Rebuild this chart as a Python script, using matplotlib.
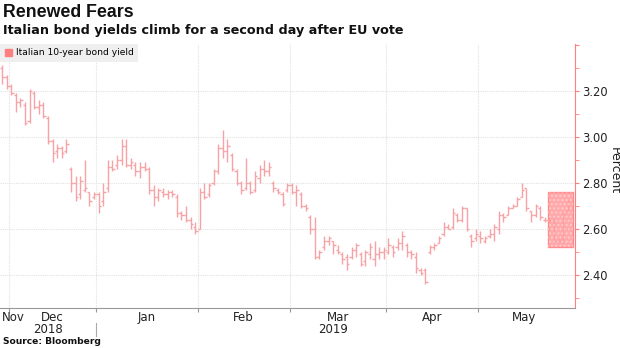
import matplotlib
matplotlib.use("Agg")
import matplotlib.pyplot as plt
import numpy as np
import pandas as pd
from matplotlib.patches import Patch, Rectangle

# trading days shown (Bloomberg calendar, holidays dropped)
holidays = ["2018-12-25", "2018-12-26", "2019-01-01", "2019-04-19", "2019-04-22"]
dates = pd.bdate_range("2018-11-29", "2019-05-28")
dates = dates[~dates.isin(pd.to_datetime(holidays))]

# Italian 10-year yield, daily open / high / low / close (percent)
opens = [3.30, 3.26, 3.22, 3.18, 3.15, 3.14, 3.07, 3.19, 3.13, 3.14, 3.08, 2.98, 2.94, 2.95, 2.94,
         2.86, 2.80, 2.75, 2.77, 2.76, 2.74,
         2.75, 2.72, 2.78, 2.87, 2.88, 2.90, 2.96, 2.88, 2.88, 2.85, 2.87, 2.86, 2.77, 2.74, 2.76,
         2.75, 2.76, 2.74, 2.67, 2.66, 2.64, 2.61,
         2.60, 2.76, 2.75, 2.80, 2.85, 2.95, 2.94, 2.92, 2.85, 2.80, 2.78, 2.80, 2.77, 2.82, 2.86,
         2.85, 2.80, 2.77, 2.75, 2.77,
         2.79, 2.76, 2.75, 2.70, 2.65, 2.60, 2.48, 2.52, 2.55, 2.55, 2.51, 2.49, 2.48, 2.48, 2.51,
         2.49, 2.46, 2.49, 2.47, 2.49, 2.50,
         2.50, 2.52, 2.52, 2.54, 2.53, 2.50, 2.48, 2.42, 2.42, 2.50, 2.52, 2.54, 2.58, 2.61, 2.61,
         2.66, 2.64, 2.69, 2.57, 2.56,
         2.57, 2.55, 2.57, 2.58, 2.60, 2.66, 2.66, 2.69, 2.70, 2.74, 2.78, 2.68, 2.66, 2.69, 2.64,
         2.64, 2.64, 2.55, 2.56, 2.68]
highs = [3.31, 3.27, 3.23, 3.19, 3.17, 3.15, 3.21, 3.20, 3.16, 3.15, 3.09, 2.99, 2.97, 2.96, 2.99,
         2.87, 2.83, 2.83, 2.90, 2.76, 2.76,
         2.76, 2.80, 2.90, 2.90, 2.92, 2.99, 2.99, 2.91, 2.89, 2.89, 2.89, 2.87, 2.79, 2.78, 2.78,
         2.77, 2.77, 2.75, 2.68, 2.70, 2.65, 2.63,
         2.78, 2.80, 2.80, 2.86, 2.97, 3.03, 2.99, 2.93, 2.86, 2.81, 2.91, 2.81, 2.85, 2.88, 2.90,
         2.89, 2.81, 2.78, 2.76, 2.80,
         2.80, 2.79, 2.76, 2.71, 2.66, 2.65, 2.51, 2.57, 2.57, 2.55, 2.53, 2.50, 2.49, 2.52, 2.54,
         2.50, 2.51, 2.54, 2.55, 2.52, 2.52,
         2.56, 2.53, 2.56, 2.59, 2.54, 2.51, 2.50, 2.43, 2.43, 2.53, 2.54, 2.57, 2.63, 2.62, 2.69,
         2.67, 2.70, 2.69, 2.58, 2.60,
         2.59, 2.57, 2.60, 2.62, 2.68, 2.67, 2.70, 2.71, 2.74, 2.80, 2.78, 2.68, 2.71, 2.70, 2.65,
         2.65, 2.65, 2.56, 2.68, 2.73]
lows = [3.23, 3.21, 3.18, 3.11, 3.13, 3.05, 3.06, 3.12, 3.10, 3.08, 2.97, 2.89, 2.91, 2.91, 2.93,
        2.76, 2.72, 2.73, 2.76, 2.70, 2.73,
        2.67, 2.70, 2.76, 2.85, 2.86, 2.88, 2.87, 2.86, 2.83, 2.82, 2.85, 2.75, 2.70, 2.72, 2.74,
        2.73, 2.74, 2.65, 2.64, 2.63, 2.60, 2.58,
        2.60, 2.73, 2.74, 2.79, 2.84, 2.91, 2.89, 2.85, 2.79, 2.75, 2.77, 2.75, 2.76, 2.80, 2.83,
        2.83, 2.76, 2.75, 2.70, 2.76,
        2.75, 2.70, 2.69, 2.68, 2.58, 2.47, 2.47, 2.51, 2.53, 2.49, 2.49, 2.45, 2.42, 2.47, 2.48,
        2.44, 2.44, 2.47, 2.44, 2.47, 2.47,
        2.49, 2.48, 2.51, 2.51, 2.48, 2.47, 2.41, 2.40, 2.36, 2.49, 2.51, 2.54, 2.57, 2.60, 2.60,
        2.63, 2.63, 2.59, 2.52, 2.55,
        2.54, 2.54, 2.56, 2.55, 2.58, 2.63, 2.66, 2.69, 2.70, 2.74, 2.68, 2.63, 2.65, 2.64, 2.63,
        2.63, 2.54, 2.54, 2.54, 2.67]
closes = [3.26, 3.22, 3.19, 3.15, 3.16, 3.06, 3.20, 3.13, 3.14, 3.09, 2.98, 2.93, 2.95, 2.93, 2.97,
          2.80, 2.74, 2.81, 2.78, 2.72, 2.75,
          2.70, 2.76, 2.87, 2.86, 2.90, 2.96, 2.88, 2.89, 2.85, 2.87, 2.86, 2.77, 2.74, 2.77, 2.75,
          2.76, 2.75, 2.67, 2.66, 2.64, 2.62, 2.59,
          2.76, 2.74, 2.79, 2.85, 2.95, 2.94, 2.96, 2.86, 2.80, 2.77, 2.80, 2.76, 2.83, 2.86, 2.85,
          2.87, 2.78, 2.76, 2.71, 2.79,
          2.76, 2.77, 2.70, 2.69, 2.60, 2.48, 2.50, 2.55, 2.56, 2.53, 2.50, 2.47, 2.45, 2.51, 2.53,
          2.45, 2.50, 2.52, 2.49, 2.50, 2.51,
          2.53, 2.50, 2.54, 2.57, 2.50, 2.49, 2.43, 2.41, 2.37, 2.52, 2.53, 2.56, 2.61, 2.60, 2.67,
          2.64, 2.69, 2.60, 2.55, 2.58,
          2.56, 2.56, 2.58, 2.61, 2.66, 2.65, 2.69, 2.70, 2.73, 2.77, 2.69, 2.66, 2.70, 2.65, 2.64,
          2.64, 2.55, 2.55, 2.67, 2.72]

# highlighted window after the EU vote
box_start, box_end = "2019-05-22", "2019-05-28"
box_low, box_high = 2.52, 2.76

title = "Renewed Fears"
subtitle = "Italian bond yields climb for a second day after EU vote"
series_name = "Italian 10-year bond yield"
source = "Source: Bloomberg"

bar_color = "#f7a3a5"
red = "#ff7f80"
txt = "#222222"

fig = plt.figure(figsize=(6.2, 3.48), dpi=100)
ax = fig.add_axes([0.0, 0.115, 0.927, 0.759])

x = np.arange(len(dates))
ax.vlines(x, lows, highs, color=bar_color, lw=1.0)
ax.hlines(opens, x - 0.5, x, color=bar_color, lw=1.0)
ax.hlines(closes, x, x + 0.5, color=bar_color, lw=1.0)

# highlight box
i0 = dates.get_loc(pd.Timestamp(box_start)) - 0.3
i1 = dates.get_loc(pd.Timestamp(box_end)) + 1.1
ax.add_patch(Rectangle((i0, box_low), i1 - i0, box_high - box_low,
                       facecolor="#ff9a9c", edgecolor=red, lw=1, alpha=0.85, zorder=3))
ax.add_patch(Rectangle((i0, box_low), i1 - i0, box_high - box_low,
                       facecolor="none", edgecolor="white", hatch="....", lw=0, alpha=0.35, zorder=4))

ax.set_xlim(-0.45, len(dates) + 0.5)
ax.set_ylim(2.257, 3.404)

# month boundaries and labels
months = dates.to_period("M")
starts = [i for i in range(1, len(dates)) if months[i] != months[i - 1]]
bounds = [s - 0.5 for s in starts]
for b in bounds:
    ax.axvline(b, color="#e2e2e2", lw=0.8, ls=(0, (1, 1)), zorder=0)
for yv in [2.4, 2.6, 2.8, 3.0, 3.2]:
    ax.axhline(yv, color="#e2e2e2", lw=0.8, ls=(0, (1, 1)), zorder=0)

ax.set_xticks(bounds)
ax.set_xticklabels([])
ax.tick_params(axis="x", length=3, color="#999999")

xt = ax.get_xaxis_transform()
edges = [-0.45] + bounds + [len(dates) - 0.5]
for k in range(len(edges) - 1):
    name = dates[int(np.ceil(edges[k]))].strftime("%b")
    mid = (edges[k] + edges[k + 1]) / 2
    if k == 0:
        ax.text(0.0, -0.012, name, transform=xt, ha="left", va="top", fontsize=8.5, color=txt)
    else:
        ax.text(mid, -0.012, name, transform=xt, ha="center", va="top", fontsize=8.5, color=txt)

# years
year_split = bounds[1]
ax.text((edges[0] + year_split) / 2, -0.058, "2018", transform=xt,
        ha="center", va="top", fontsize=8.5, color=txt)
ax.text((year_split + edges[-1]) / 2, -0.058, "2019", transform=xt,
        ha="center", va="top", fontsize=8.5, color=txt)
ax.plot([year_split, year_split], [-0.055, -0.105], transform=xt,
        color="#aaaaaa", lw=0.8, clip_on=False)

# right axis
ax.yaxis.tick_right()
ax.set_yticks([2.4, 2.6, 2.8, 3.0, 3.2, 3.4])
ax.set_yticklabels(["2.40", "2.60", "2.80", "3.00", "3.20", ""])
ax.set_yticks([2.3, 2.5, 2.7, 2.9, 3.1, 3.3], minor=True)
ax.tick_params(axis="y", which="both", color=red, labelcolor=txt, labelsize=8.3,
               length=3, pad=2)
fig.text(0.99, 0.51, "Percent", rotation=270, fontsize=9, color=txt, ha="center", va="center")

for side in ["top", "left"]:
    ax.spines[side].set_visible(False)
ax.spines["right"].set_color(red)
ax.spines["bottom"].set_color("#999999")

leg = ax.legend(handles=[Patch(color=red, label=series_name)], loc="upper left",
                bbox_to_anchor=(0.0, 1.0), borderaxespad=0, frameon=True, fontsize=6.6,
                handlelength=0.8, handleheight=0.8, handletextpad=0.4, borderpad=0.5)
leg.get_frame().set_facecolor("#ececec")
leg.get_frame().set_edgecolor("none")
leg.get_frame().set_boxstyle("square", pad=0)

fig.text(0.005, 0.965, title, fontsize=12.8, fontweight="bold", color="#111111", va="center",
         family="Liberation Sans")
fig.text(0.005, 0.911, subtitle, fontsize=9.2, fontweight="bold", color="#111111", va="center")
fig.text(0.005, 0.018, source, fontsize=6.6, fontweight="bold", color="#111111", va="center")

fig.savefig("out.png", dpi=100)
